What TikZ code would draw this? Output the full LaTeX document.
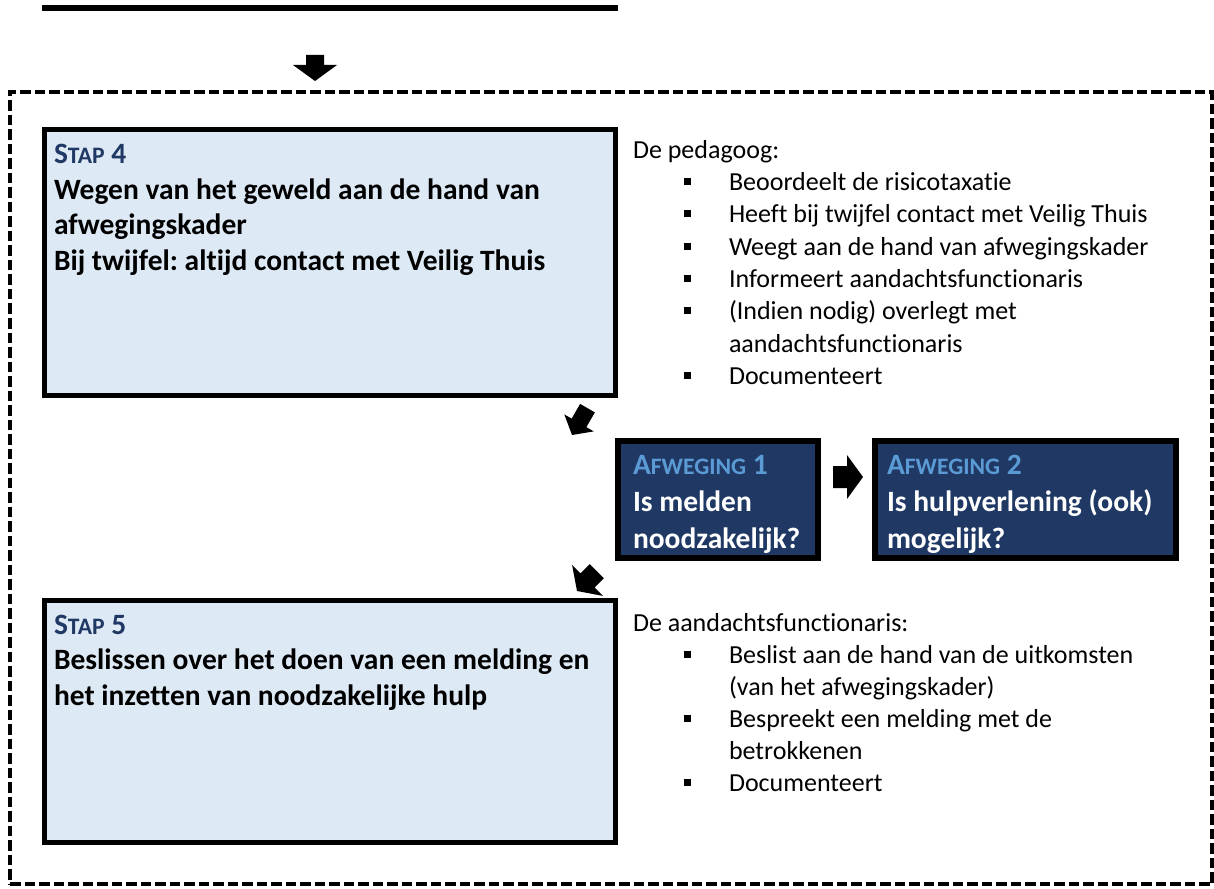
\documentclass[tikz,border=0pt]{standalone}
\usepackage{fontspec}
\setmainfont{Carlito}[Ligatures={NoCommon}]
\frenchspacing
\definecolor{stapfill}{HTML}{DDE9F5}
\definecolor{navy}{HTML}{203864}
\definecolor{afwtitle}{HTML}{5B9BD5}
\newcommand{\fsc}[1]{{\fontsize{23.6}{24}\selectfont #1}}
\tikzset{
  txt/.style={anchor=base west, inner sep=0pt, outer sep=0pt, font=\fontsize{26}{32}\selectfont},
  btxt/.style={anchor=base west, inner sep=0pt, outer sep=0pt, font=\fontsize{29.5}{35}\selectfont\bfseries},
  bul/.style={rectangle, fill=black, minimum size=7pt, inner sep=0pt},
  stapbox/.style={rectangle, draw=black, line width=5pt, fill=stapfill, inner sep=0pt},
  afbox/.style={rectangle, draw=black, line width=6pt, fill=navy, inner sep=0pt},
  framebox/.style={rectangle, draw=black, line width=3.5pt, dash pattern=on 10.5pt off 4pt, inner sep=0pt},
  pics/barrow/.style n args={4}{code={
    \fill[black] (0,0) -- (-#1,#2) -- (-#1,#3) -- (-#4,#3) -- (-#4,-#3) -- (-#1,-#3) -- (-#1,-#2) -- cycle;
  }}
}
\begin{document}
\frenchspacing
\begin{tikzpicture}[x=1pt,y=-1pt]
\useasboundingbox (0,0) rectangle (1214,888);
% top bar
\coordinate (bar1) at (42,8);
\coordinate (bar2) at (618,8);
\draw[line width=6pt] (bar1) -- (bar2);
% dashed frame
\node[framebox, minimum width=1202pt, minimum height=792pt] (frame) at (611,488) {};
% boxes
\node[stapbox, minimum width=571pt, minimum height=266pt] (stap4) at (330,262.5) {};
\node[stapbox, minimum width=571pt, minimum height=242pt] (stap5) at (330,721.5) {};
\node[afbox, minimum width=200pt, minimum height=117pt] (afw1) at (718,499.5) {};
\node[afbox, minimum width=301pt, minimum height=117pt] (afw2) at (1025.5,499.5) {};
% arrows
\pic[rotate=270] at (315,81) {barrow={16}{22}{9}{26}};
\pic[rotate=240] at (572,435) {barrow={14}{17}{8.5}{31}};
\pic at (863,477) {barrow={16}{22}{11}{30}};
\pic[rotate=225] at (577,591) {barrow={15}{22}{10}{28}};
% stap 4 text
\node[btxt, text=navy] (s4t) at (54,163) {S\fsc{TAP} 4};
\node[btxt] (s4a) at (54,199) {Wegen van het geweld aan de hand van};
\node[btxt] (s4b) at (54,234.5) {afwegingskader};
\node[btxt] (s4c) at (54,270) {Bij twijfel: altijd contact met Veilig Thuis};
% stap 5 text
\node[btxt, text=navy] (s5t) at (54,634) {S\fsc{TAP} 5};
\node[btxt] (s5a) at (54,669.5) {Beslissen over het doen van een melding en};
\node[btxt] (s5b) at (54,705) {het inzetten van noodzakelijke hulp};
% afweging text
\node[btxt, text=afwtitle] (a1t) at (633,474) {A\fsc{FWEGING} 1};
\node[btxt, text=white] (a1a) at (633,511.5) {Is melden};
\node[btxt, text=white] (a1b) at (633,548) {noodzakelijk?};
\node[btxt, text=afwtitle] (a2t) at (887,474) {A\fsc{FWEGING} 2};
\node[btxt, text=white] (a2a) at (887,511.5) {Is hulpverlening (ook)};
\node[btxt, text=white] (a2b) at (887,548) {mogelijk?};
% pedagoog list
\node[txt] (p0) at (633,158) {De pedagoog:};
\node[txt] (p1) at (729,190.5) {Beoordeelt de risicotaxatie};
\node[txt] (p2) at (729,222.5) {Heeft bij twijfel contact met Veilig Thuis};
\node[txt] (p3) at (729,255) {Weegt aan de hand van afwegingskader};
\node[txt] (p4) at (729,287) {Informeert aandachtsfunctionaris};
\node[txt] (p5) at (729,319.5) {(Indien nodig) overlegt met};
\node[txt] (p5b) at (729,352) {aandachtsfunctionaris};
\node[txt] (p6) at (729,384.5) {Documenteert};
\node[bul] (pb1) at (687,181.5) {};
\node[bul] (pb2) at (687,213.5) {};
\node[bul] (pb3) at (687,246) {};
\node[bul] (pb4) at (687,278) {};
\node[bul] (pb5) at (687,310.5) {};
\node[bul] (pb6) at (687,375.5) {};
% aandachtsfunctionaris list
\node[txt] (f0) at (633,631.5) {De aandachtsfunctionaris:};
\node[txt] (f1) at (729,663.5) {Beslist aan de hand van de uitkomsten};
\node[txt] (f1b) at (729,695.5) {(van het afwegingskader)};
\node[txt] (f2) at (729,727.5) {Bespreekt een melding met de};
\node[txt] (f2b) at (729,759.5) {betrokkenen};
\node[txt] (f3) at (729,791.5) {Documenteert};
\node[bul] (fb1) at (687,654.5) {};
\node[bul] (fb2) at (687,718.5) {};
\node[bul] (fb3) at (687,782.5) {};
\end{tikzpicture}
\end{document}
